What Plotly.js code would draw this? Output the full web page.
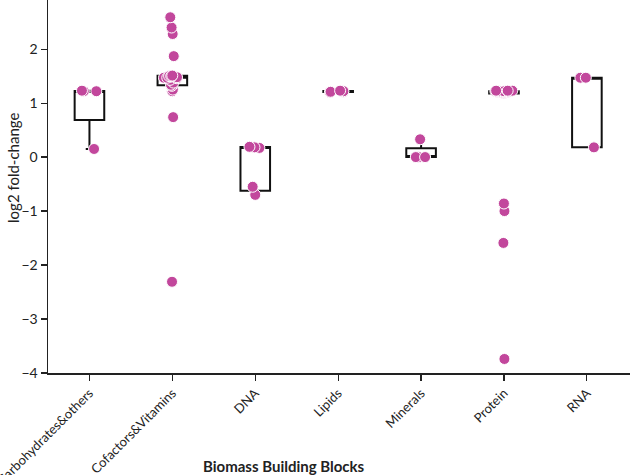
<!DOCTYPE html>
<html>
<head>
<meta charset="utf-8">
<script src="https://cdn.plot.ly/plotly-3.0.1.min.js"></script>
<style>html,body{margin:0;padding:0;background:#fff;}#chart{width:630px;height:475px;}</style>
</head>
<body>
<div id="chart"></div>
<script>
const categories = ["Carbohydrates&others", "Cofactors&Vitamins", "DNA", "Lipids", "Minerals", "Protein", "RNA"];
const carbohydrates = [0.15, 1.22, 1.22, 1.23];
const cofactors = [-2.31, 0.74, 1.22, 1.25, 1.32, 1.34, 1.38, 1.43, 1.46, 1.47, 1.47, 1.48, 1.49, 1.50, 1.50, 1.51, 1.87, 2.28, 2.40, 2.59];
const dna = [-0.70, -0.55, 0.17, 0.18, 0.19];
const lipids = [1.20, 1.21, 1.21, 1.22, 1.23];
const minerals = [0.0, 0.0, 0.0, 0.33];
const protein = [-3.74, -1.59, -1.00, -0.86, 1.18, 1.19, 1.20, 1.20, 1.21, 1.21, 1.21, 1.22, 1.22, 1.22, 1.22, 1.23, 1.23, 1.23];
const rna = [0.18, 1.47, 1.47];
const yTicks = [-4, -3, -2, -1, 0, 1, 2];

const groups = [carbohydrates, cofactors, dna, lipids, minerals, protein, rna];
const xs = [], ys = [];
groups.forEach((g, i) => g.forEach(v => { xs.push(categories[i]); ys.push(v); }));

const font = "Lato, 'Open Sans', sans-serif";
const trace = {
  type: "box",
  x: xs,
  y: ys,
  boxpoints: "all",
  jitter: 0.6,
  pointpos: 0,
  quartilemethod: "exclusive",
  whiskerwidth: 0.25,
  fillcolor: "rgba(0,0,0,0)",
  line: {color: "#111", width: 2},
  marker: {color: "#c2479c", size: 11, line: {color: "#ffffff", width: 1}, opacity: 1},
  hoverinfo: "y",
  showlegend: false
};

const layout = {
  width: 630, height: 475,
  margin: {l: 48, r: 0, t: 0, b: 102},
  paper_bgcolor: "#fff", plot_bgcolor: "#fff",
  boxgap: 0.49,
  font: {family: font, color: "#222", size: 13},
  xaxis: {
    type: "category",
    categoryorder: "array", categoryarray: categories,
    range: [-0.5, 6.52],
    showline: true, linecolor: "#222", linewidth: 1.5,
    ticks: "outside", ticklen: 6, tickcolor: "#222", tickwidth: 1.2,
    tickangle: -45, tickfont: {size: 13, family: font, color: "#222"},
    showgrid: false, zeroline: false, automargin: false
  },
  yaxis: {
    range: [-4, 2.91],
    tickvals: yTicks,
    showline: true, linecolor: "#222", linewidth: 1.5,
    ticks: "outside", ticklen: 6, tickcolor: "#222", tickwidth: 1.2,
    tickfont: {size: 14, family: font, color: "#222"},
    showgrid: false, zeroline: false, automargin: false
  },
  annotations: [
    {text: "<b>Biomass Building Blocks</b>", xref: "paper", yref: "paper", x: 0.405, y: -0.249,
     xanchor: "center", yanchor: "middle", showarrow: false, font: {size: 15, family: font, color: "#222"}},
    {text: "log2 fold-change", xref: "paper", yref: "paper", x: -0.06, y: 0.55, textangle: -90,
     xanchor: "center", yanchor: "middle", showarrow: false, font: {size: 15, family: font, color: "#222"}}
  ]
};

Plotly.newPlot("chart", [trace], layout, {displayModeBar: false, staticPlot: true});
</script>
</body>
</html>
